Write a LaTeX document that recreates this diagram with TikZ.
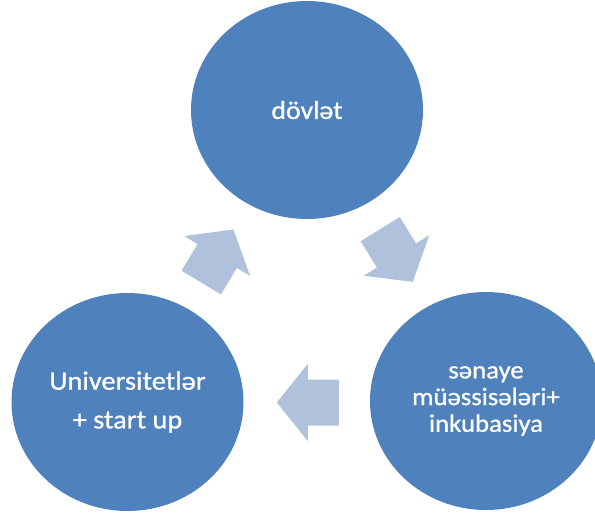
\documentclass[tikz,border=0pt]{standalone}
\usepackage{fontspec}
\setmainfont{Carlito}[FakeStretch=1.07,FakeBold=0.8]
\usetikzlibrary{shapes.geometric,calc}
\definecolor{circblue}{RGB}{79,129,189}
\definecolor{arrblue}{RGB}{176,193,220}
\tikzset{
  bubble/.style={ellipse, fill=circblue, draw=none, inner sep=0pt,
    minimum width=232pt, minimum height=218pt, text=white, align=center},
  cyclearrow/.pic={
    \fill[arrblue] (-31,23) -- (0,23) -- (0,38.5) -- (31,0) -- (0,-38.5)
      -- (0,-23) -- (-31,-23) -- cycle;
  }
}
\begin{document}
\begin{tikzpicture}[x=1pt,y=-1pt]
\path[use as bounding box, clip] (0,0) rectangle (595,515);
\node[bubble, font=\fontsize{26}{30}\selectfont] (dov) at (307,110) {dövlət};
\node[bubble, font=\fontsize{26.5}{38.7}\selectfont] (uni) at (127.5,402)
  {Universitetlər\\+ start up};
\node[bubble, font=\fontsize{25}{26.7}\selectfont] (san) at (486,401)
  {sənaye\\müəssisələri+\\inkubasiya};
\pic[rotate=58.8] (a1) at ($(uni)!0.5!(dov)$) {cyclearrow};
\pic[rotate=-58.3] (a2) at ($(dov)!0.5!(san)$) {cyclearrow};
\pic[rotate=180] (a3) at ($(san)!0.5!(uni)+(1,1)$) {cyclearrow};
\end{tikzpicture}
\end{document}
